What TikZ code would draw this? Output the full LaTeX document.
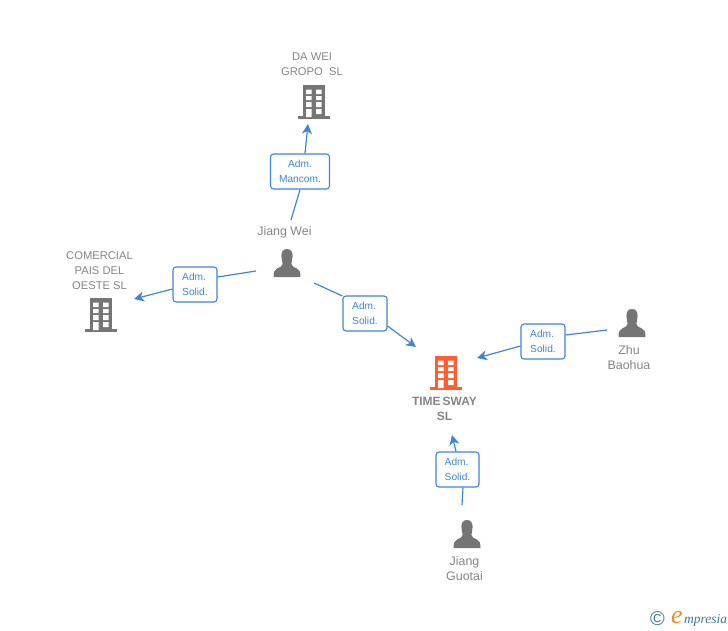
\documentclass[tikz,border=0pt]{standalone}
\usepackage{fontspec}
\setmainfont{Liberation Sans}
\newfontfamily\logofont{Liberation Serif}
\usetikzlibrary{arrows.meta}
\definecolor{edgeblue}{HTML}{3F84DC}
\definecolor{icongray}{HTML}{757575}
\definecolor{textgray}{HTML}{858585}
\definecolor{mainorange}{HTML}{FF5E33}
\definecolor{logoteal}{HTML}{3A7D96}
\definecolor{logoorange}{HTML}{F08A1D}
\tikzset{
  x=1pt,y=-1pt,
  lbl/.style={text=textgray,font=\fontsize{11.2}{15}\selectfont,align=center,inner sep=0pt},
  lblwide/.style={lbl,font=\fontsize{12.4}{15}\selectfont},
  rolebox/.style={draw=edgeblue,fill=white,rounded corners=3pt,line width=1.1pt,text=edgeblue,
    font=\fontsize{10.2}{15}\selectfont,inner sep=0pt,minimum height=35pt},
  conn/.style={draw=edgeblue,line width=1.2pt},
  arr/.style={conn,-{Stealth[length=10pt,width=10pt,inset=3pt]}},
  pics/building/.style={code={
    \fill[#1] (-11,0) rectangle (11,32);
    \fill[#1] (-16,31) rectangle (16,34);
    \fill[white] (-8,4.5) rectangle (-2.5,9) (2,4.5) rectangle (7.5,9)
      (-8,11) rectangle (-2.5,15) (2,11) rectangle (7.5,15)
      (-8,17) rectangle (-2.5,22) (2,17) rectangle (7.5,22)
      (-8,24) rectangle (-2.5,32) (2,24) rectangle (7.5,29);
  }},
  pics/person/.style={code={
    \fill[icongray] (0,0) .. controls (3.8,0) and (5.8,3) .. (5.6,7)
      .. controls (5.4,10.5) and (4.6,13) .. (4.4,15)
      .. controls (4.4,17.5) and (7,18) .. (10,19.5)
      .. controls (12.5,20.5) and (13.5,23) .. (13.5,28)
      -- (-13.5,28)
      .. controls (-13.5,23) and (-12.5,20.5) .. (-10,19.5)
      .. controls (-7,18) and (-4.4,17.5) .. (-4.4,15)
      .. controls (-4.6,13) and (-5.4,10.5) .. (-5.6,7)
      .. controls (-5.8,3) and (-3.8,0) .. (0,0) -- cycle;
  }}
}
\begin{document}
\begin{tikzpicture}
\useasboundingbox (0,0) rectangle (728,630);
% icons
\pic at (314,85) {building=icongray};
\pic at (101,298) {building=icongray};
\pic at (446,356) {building=mainorange};
\pic at (287,249) {person};
\pic at (632,309) {person};
\pic at (467,520) {person};
% labels
\node[lbl] (dawei) at (312,64) {DA WEI\\GROPO\ \ SL};
\node[lbl] (comercial) at (99.5,270.5) {COMERCIAL\\PAIS DEL\\OESTE SL};
\node[lbl,font=\fontsize{12}{15}\selectfont\bfseries] (timesway) at (444.5,408.5) {TIME\hspace{2pt}SWAY\\SL};
\node[lblwide] (jiangwei) at (284.5,232) {Jiang Wei};
\node[lblwide] (zhu) at (629,358) {Zhu\\Baohua};
\node[lblwide] (guotai) at (464.5,569) {Jiang\\Guotai};
% connector ends
\coordinate (a1) at (291,220);
\coordinate (t1) at (308,124);
\coordinate (a2) at (256,271);
\coordinate (t2) at (134,299);
\coordinate (a3) at (314,283);
\coordinate (t3) at (416,347);
\coordinate (a4) at (607,330);
\coordinate (t4) at (477,358);
\coordinate (a5) at (462,505);
\coordinate (t5) at (452,435);
% role boxes
\node[rolebox,minimum width=59pt,align=center] (r1) at (300,171.5) {Adm.\\Mancom.};
\node[rolebox,minimum width=44pt,align=left] (r2) at (195,284.5) {Adm.\\Solid.};
\node[rolebox,minimum width=44pt,align=left] (r3) at (365,313.5) {Adm.\\Solid.};
\node[rolebox,minimum width=44pt,align=left] (r4) at (543,341.5) {Adm.\\Solid.};
\node[rolebox,minimum width=43pt,align=left] (r5) at (457.5,469.5) {Adm.\\Solid.};
% connectors
\path[conn] (a1) -- (r1.south);
\path[arr] (r1.north) ++(5,0) coordinate (s1) (s1) -- (t1);
\path[conn] (a2) -- (r2.east |- 0,277);
\path[arr] (r2.west |- 0,289) -- (t2);
\path[conn] (a3) -- (r3.west |- 0,296);
\path[arr] (r3.east |- 0,326) -- (t3);
\path[conn] (a4) -- (r4.east |- 0,335);
\path[arr] (r4.west |- 0,346) -- (t4);
\path[conn] (a5) -- (r5.south -| 463,0);
\path[arr] (r5.north -| 456,0) -- (t5);
% logo
\node[inner sep=0pt,text=logoteal,font=\fontsize{20}{20}\selectfont] (copy) at (657.5,619) {©};
\node[inner sep=0pt,text=logoorange,font=\logofont\itshape\fontsize{26}{26}\selectfont] (logoe) at (677,617) {e};
\node[inner sep=0pt,text=logoteal,font=\logofont\itshape\fontsize{13.5}{14}\selectfont,anchor=west] (logot) at (684,620) {mpresia};
\end{tikzpicture}
\end{document}
